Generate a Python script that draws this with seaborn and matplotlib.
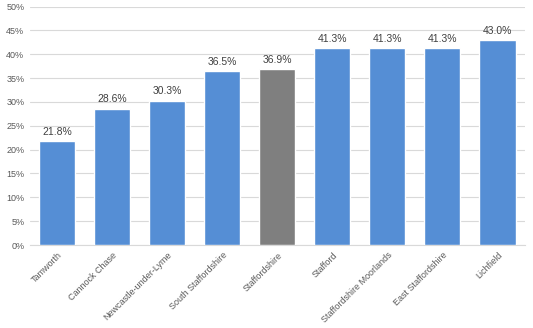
import matplotlib
matplotlib.use("Agg")
import matplotlib.pyplot as plt
import seaborn as sns
import pandas as pd

areas = ["Tamworth", "Cannock Chase", "Newcastle-under-Lyme", "South Staffordshire",
         "Staffordshire", "Stafford", "Staffordshire Moorlands", "East Staffordshire",
         "Lichfield"]
values = [21.8, 28.6, 30.3, 36.5, 36.9, 41.3, 41.3, 41.3, 43.0]
y_ticks = [0, 5, 10, 15, 20, 25, 30, 35, 40, 45, 50]

sns.set_theme(style="white")
plt.rcParams["font.family"] = ["Liberation Sans", "DejaVu Sans"]

blue = "#558ED5"
grey = "#7F7F7F"
text_col = "#595959"
palette = {a: (grey if a == "Staffordshire" else blue) for a in areas}

df = pd.DataFrame({"area": areas, "value": values})

fig = plt.figure(figsize=(5.33, 3.28), dpi=100)
ax = fig.add_axes([0.056, 0.253, 0.929, 0.727])

sns.barplot(data=df, x="area", y="value", hue="area", palette=palette,
            width=0.655, legend=False, ax=ax, zorder=3, saturation=1)

for p, v in zip(ax.patches, values):
    ax.text(p.get_x() + p.get_width() / 2, v + 0.9, f"{v:.1f}%",
            ha="center", va="bottom", fontsize=7.5, color="#404040")

ax.set_ylim(0, 50)
ax.set_xlim(-0.5, len(areas) - 0.5)
ax.set_yticks(y_ticks)
ax.set_yticklabels([f"{t}%" for t in y_ticks], fontsize=6.5, color=text_col)
ax.set_xticks(range(len(areas)))
ax.set_xticklabels(areas, rotation=45, ha="right", rotation_mode="anchor",
                   fontsize=6.5, color=text_col)
ax.tick_params(axis="both", length=0, pad=4)
ax.set_xlabel("")
ax.set_ylabel("")

ax.grid(axis="y", color="#D9D9D9", linewidth=0.8, zorder=0)
for s in ["left", "right", "top"]:
    ax.spines[s].set_visible(False)
ax.spines["bottom"].set_color("#D9D9D9")
ax.spines["bottom"].set_linewidth(0.8)

fig.savefig("out.png", dpi=100)
